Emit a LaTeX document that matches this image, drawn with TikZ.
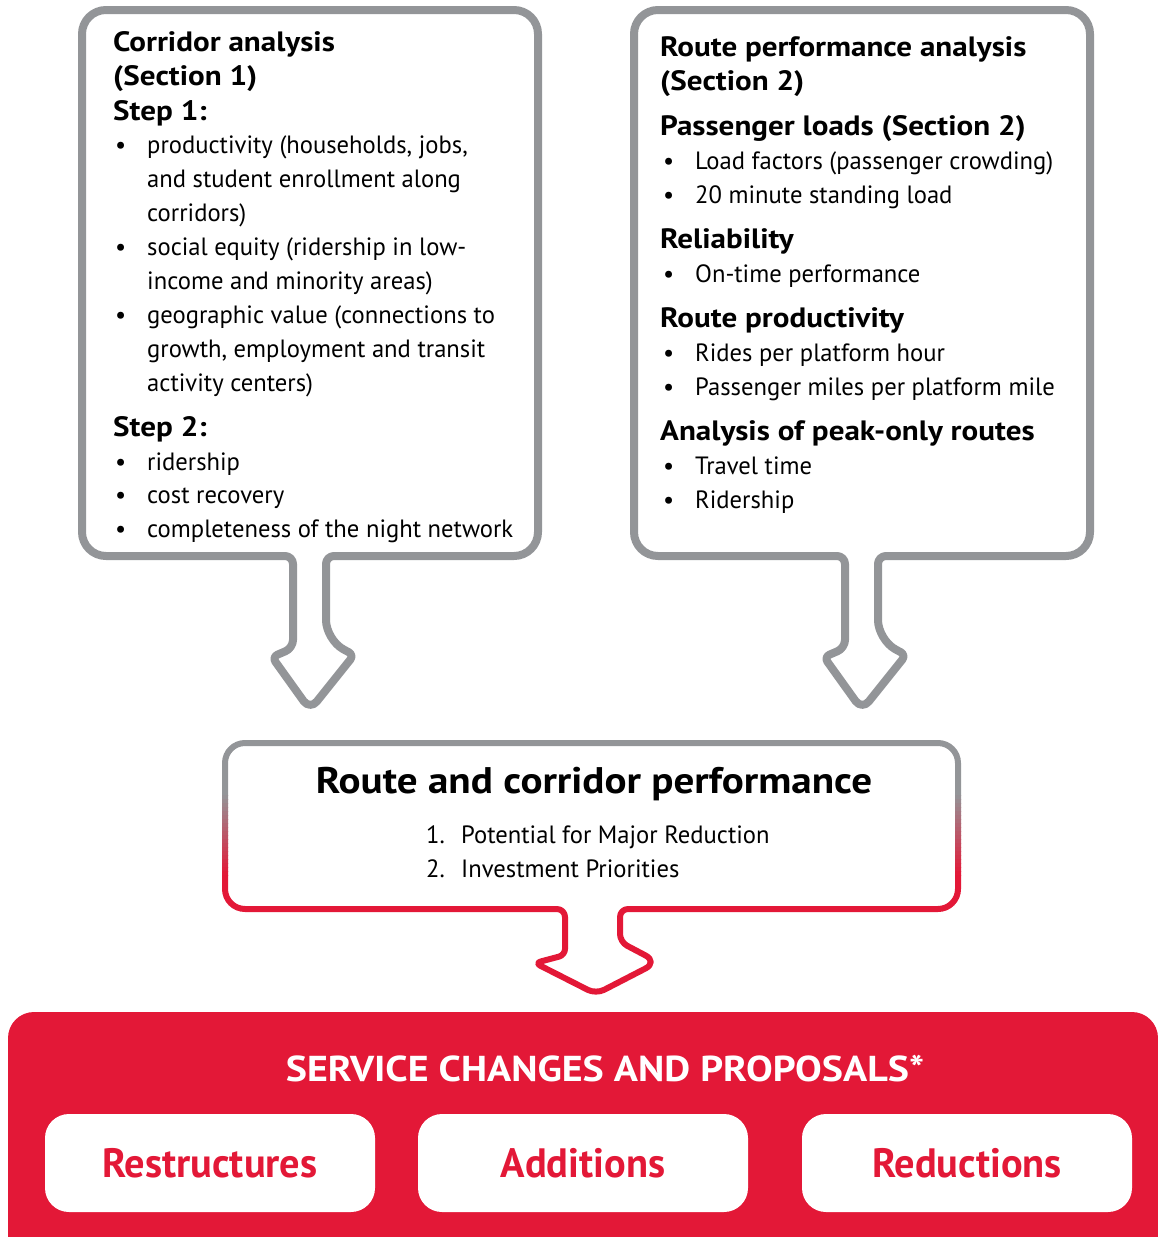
\documentclass[tikz,border=0pt]{standalone}
\usepackage{fontspec}
\setmainfont{PT Sans}[FakeStretch=0.985]
\newfontfamily\hdfont{PT Sans}[FakeStretch=1.11]
\definecolor{boxgray}{HTML}{939598}
\definecolor{kred}{HTML}{E31837}
\newcommand\bitem[4]{\node[txt] (#1b) at (#2,#3) {\textbullet}; \node[txt] (#1) at ({#2+32},#3) {#4};}
\begin{document}
\begin{tikzpicture}[x=1pt,y=-1pt,
  txt/.style={anchor=base west, inner sep=0pt, font=\fontsize{25}{30}\selectfont},
  hd/.style={anchor=base west, inner sep=0pt, font=\hdfont\fontsize{28}{30}\selectfont\bfseries},
  grayline/.style={draw=boxgray, line width=8pt, line join=round},
  midline/.style={line width=6pt, line join=round},
  wbox/.style={fill=white, rounded corners=24pt, minimum width=330pt, minimum height=98pt, inner sep=0pt,
    text=kred, font=\fontsize{41}{44}\selectfont\bfseries},
]
\useasboundingbox (0,0) rectangle (1158,1237);
\clip (0,0) rectangle (1158,1237);

% ---------- left box with arrow ----------
\draw[grayline, fill=white] (450,556) [rounded corners=24pt] -- (538,556) -- (538,10) -- (82,10) -- (82,556)
  [rounded corners=8pt] -- (293,556) -- (293,648) [rounded corners=6pt] -- (272,657)
  [rounded corners=11pt] -- (310,710) [rounded corners=6pt] -- (354,655)
  [rounded corners=20pt] -- (326,640) [rounded corners=8pt] -- (326,556) -- cycle;

% ---------- right box with arrow ----------
\draw[grayline, fill=white] (1000,556) [rounded corners=24pt] -- (1090,556) -- (1090,10) -- (634,10) -- (634,556)
  [rounded corners=8pt] -- (845,556) -- (845,648) [rounded corners=6pt] -- (824,657)
  [rounded corners=11pt] -- (862,710) [rounded corners=6pt] -- (906,655)
  [rounded corners=20pt] -- (878,640) [rounded corners=8pt] -- (878,556) -- cycle;

% ---------- middle box with arrow (gray-to-red outline) ----------
\def\midpath{(400,909) [rounded corners=20pt] -- (225,909) -- (225,743) -- (958,743) -- (958,909)
  [rounded corners=8pt] -- (620,909) -- (620,942) [rounded corners=14pt] -- (658,962)
  [rounded corners=9pt] -- (596,994) [rounded corners=6pt] -- (535,963) -- (565,955) [rounded corners=8pt] -- (565,909) -- cycle}
\fill[white] \midpath;
\begin{scope}
  \clip (0,0) rectangle (1158,795);
  \draw[midline, draw=boxgray] \midpath;
\end{scope}
\foreach \i in {0,...,19} {
  \pgfmathsetmacro\ya{795+\i*4}
  \pgfmathsetmacro\yb{\ya+4.3}
  \pgfmathtruncatemacro\pc{\i*5+3}
  \begin{scope}
    \clip (0,\ya) rectangle (1158,\yb);
    \draw[midline, draw=kred!\pc!boxgray] \midpath;
  \end{scope}
}
\begin{scope}
  \clip (0,875) rectangle (1158,1005);
  \draw[midline, draw=kred] \midpath;
\end{scope}

% ---------- bottom red panel ----------
\fill[kred, rounded corners=26pt] (8,1012) rectangle (1158,1290);

% ---------- left box text ----------
\node[hd] (L1) at (113,51) {Corridor analysis};
\node[hd] (L2) at (113,85) {(Section 1)};
\node[hd] (L3) at (113,120) {Step 1:};
\bitem{L4}{115}{153}{productivity (households, jobs,}
\node[txt] (L5) at (147,187) {and student enrollment along};
\node[txt] (L6) at (147,221) {corridors)};
\bitem{L7}{115}{255}{social equity (ridership in low-}
\node[txt] (L8) at (147,289) {income and minority areas)};
\bitem{L9}{115}{323}{geographic value (connections to}
\node[txt] (L10) at (147,357) {growth, employment and transit};
\node[txt] (L11) at (147,391) {activity centers)};
\node[hd] (L12) at (113,436) {Step 2:};
\bitem{L13}{115}{470}{ridership}
\bitem{L14}{115}{503}{cost recovery}
\bitem{L15}{115}{537}{completeness of the night network}

% ---------- right box text ----------
\node[hd] (R1) at (660,56) {Route performance analysis};
\node[hd] (R2) at (660,90) {(Section 2)};
\node[hd] (R3) at (660,135) {Passenger loads (Section 2)};
\bitem{R4}{663}{169}{Load factors (passenger crowding)}
\bitem{R5}{663}{203}{20 minute standing load}
\node[hd] (R6) at (660,248) {Reliability};
\bitem{R7}{663}{282}{On-time performance}
\node[hd] (R8) at (660,327) {Route productivity};
\bitem{R9}{663}{361}{Rides per platform hour}
\bitem{R10}{663}{395}{Passenger miles per platform mile}
\node[hd] (R11) at (660,440) {Analysis of peak-only routes};
\bitem{R12}{663}{474}{Travel time}
\bitem{R13}{663}{508}{Ridership}

% ---------- middle text ----------
\node[anchor=base, inner sep=0pt, font=\hdfont\fontsize{37}{40}\selectfont\bfseries] (M1) at (594,793) {Route and corridor performance};
\node[txt] (M2n) at (426,843) {1.};
\node[txt] (M2) at (461,843) {Potential for Major Reduction};
\node[txt] (M3n) at (426,877) {2.};
\node[txt] (M3) at (461,877) {Investment Priorities};

% ---------- bottom panel text and boxes ----------
\node[anchor=base, inner sep=0pt, text=white, font=\hdfont\fontsize{36}{40}\selectfont\bfseries] (S) at (605,1081) {SERVICE CHANGES AND PROPOSALS*};
\node[wbox] (B1) at (210,1163) {Restructures};
\node[wbox] (B2) at (583,1163) {Additions};
\node[wbox] (B3) at (967,1163) {Reductions};
\end{tikzpicture}
\end{document}
